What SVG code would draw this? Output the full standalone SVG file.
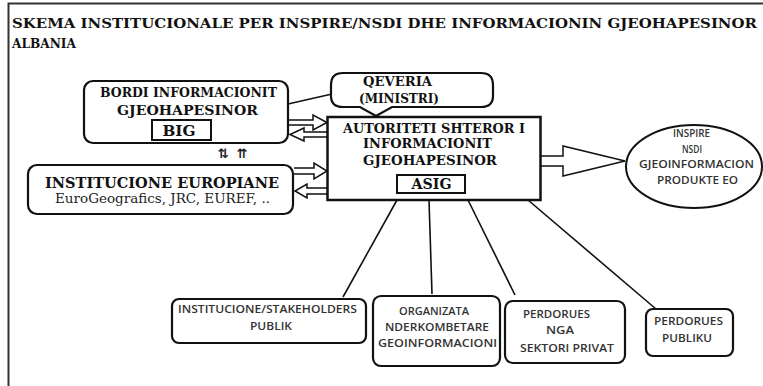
<svg xmlns="http://www.w3.org/2000/svg" width="763" height="386" viewBox="0 0 763 386">
<style>
  .bx{fill:#fff;stroke:#111;stroke-width:2.2}
  .ln{fill:none;stroke:#111;stroke-width:1.6}
  .ar{fill:#fff;stroke:#111;stroke-width:1.5;stroke-linejoin:miter}
  .sf{font-family:"DejaVu Serif","Liberation Serif",serif;font-weight:bold;fill:#111}
  .sfn{font-family:"DejaVu Serif","Liberation Serif",serif;font-weight:normal;fill:#222}
  .ss{font-family:"Open Sans","Liberation Sans",sans-serif;font-weight:600;fill:#333}
</style>
<rect width="763" height="386" fill="#fff"/>
<path d="M8.5,386 V3.5 H763" fill="none" stroke="#333" stroke-width="2"/>
<g id="title">
  <text class="sf" x="12" y="28" font-size="13.5" textLength="745" lengthAdjust="spacingAndGlyphs">SKEMA INSTITUCIONALE PER INSPIRE/NSDI DHE INFORMACIONIN GJEOHAPESINOR</text>
  <text class="sf" x="12" y="48" font-size="13.5" textLength="64" lengthAdjust="spacingAndGlyphs">ALBANIA</text>
</g>
<g id="connectors">
  <line class="ln" x1="288" y1="104" x2="332" y2="94"/>
  <line class="ln" x1="397" y1="200" x2="343" y2="297"/>
  <line class="ln" x1="429" y1="200" x2="432" y2="294"/>
  <line class="ln" x1="468" y1="200" x2="515" y2="295"/>
  <line class="ln" x1="528" y1="200" x2="656" y2="309"/>
  <path class="ar" d="M289,120 H313 V115 L327,122.5 L313,130 V125 H289"/>
  <path class="ar" d="M327,132 H304 V128 L290,134.5 L304,141 V137 H327"/>
  <path class="ar" d="M294,168 H314 V163 L327,171 L314,179 V174 H294"/>
  <path class="ar" d="M327,188 H307 V184 L295,191 L307,198 V194 H327"/>
  <path class="ar" d="M541,156 H563 V146 L625,161 L563,176 V166 H541"/>
  <text x="223" y="158" font-family="DejaVu Sans,sans-serif" font-weight="bold" font-size="13" fill="#222" text-anchor="middle">⇅</text>
  <text x="242" y="158" font-family="DejaVu Sans,sans-serif" font-weight="bold" font-size="13" fill="#222" text-anchor="middle">⇈</text>
</g>
<g id="big">
  <rect class="bx" x="84" y="81" width="204" height="62" rx="9"/>
  <text class="sf" x="188.5" y="97" font-size="12.5" text-anchor="middle" textLength="177" lengthAdjust="spacingAndGlyphs">BORDI INFORMACIONIT</text>
  <text class="sf" x="187.5" y="115" font-size="12.5" text-anchor="middle" textLength="141" lengthAdjust="spacingAndGlyphs">GJEOHAPESINOR</text>
  <rect x="152" y="120" width="59" height="20" fill="none" stroke="#111" stroke-width="2"/>
  <text class="sf" x="179" y="136" font-size="15" text-anchor="middle" textLength="33" lengthAdjust="spacingAndGlyphs">BIG</text>
</g>
<g id="europiane">
  <rect class="bx" x="28" y="165" width="265" height="49" rx="9"/>
  <text class="sf" x="162" y="188" font-size="15" text-anchor="middle" textLength="234" lengthAdjust="spacingAndGlyphs">INSTITUCIONE EUROPIANE</text>
  <text class="sfn" x="162.5" y="203" font-size="12" text-anchor="middle" textLength="215" lengthAdjust="spacingAndGlyphs">EuroGeografics, JRC, EUREF, ..</text>
</g>
<g id="qeveria">
  <path class="bx" d="M343,73 H481 Q493,73 493,85 V96 Q493,107 481,107 H392 L376,116 L360,107 H343 Q331,107 331,96 V85 Q331,73 343,73 Z"/>
  <text class="sf" x="397.5" y="86" font-size="12" text-anchor="middle" textLength="69" lengthAdjust="spacingAndGlyphs">QEVERIA</text>
  <text class="sf" x="399" y="103" font-size="12" text-anchor="middle" textLength="80" lengthAdjust="spacingAndGlyphs">(MINISTRI)</text>
</g>
<g id="asig">
  <rect x="327.5" y="117" width="213" height="83" fill="#fff" stroke="#111" stroke-width="2.5"/>
  <text class="sf" x="434" y="133" font-size="12.5" text-anchor="middle" textLength="182" lengthAdjust="spacingAndGlyphs">AUTORITETI SHTEROR I</text>
  <text class="sf" x="427.5" y="148" font-size="12.5" text-anchor="middle" textLength="129" lengthAdjust="spacingAndGlyphs">INFORMACIONIT</text>
  <text class="sf" x="430" y="165" font-size="12.5" text-anchor="middle" textLength="134" lengthAdjust="spacingAndGlyphs">GJEOHAPESINOR</text>
  <rect x="397" y="175" width="68" height="18" fill="none" stroke="#111" stroke-width="2"/>
  <text class="sf" x="431.5" y="189" font-size="14" text-anchor="middle" textLength="40" lengthAdjust="spacingAndGlyphs">ASIG</text>
</g>
<g id="inspire">
  <ellipse cx="694" cy="166.5" rx="68" ry="41.5" fill="#fff" stroke="#111" stroke-width="2"/>
  <text class="ss" x="691.5" y="137" font-size="10" text-anchor="middle" textLength="37" lengthAdjust="spacingAndGlyphs">INSPIRE</text>
  <text class="ss" x="692" y="153" font-size="10" text-anchor="middle" textLength="20" lengthAdjust="spacingAndGlyphs">NSDI</text>
  <text class="ss" x="696.5" y="168" font-size="10" text-anchor="middle" textLength="115" lengthAdjust="spacingAndGlyphs">GJEOINFORMACION</text>
  <text class="ss" x="697.5" y="184" font-size="10" text-anchor="middle" textLength="81" lengthAdjust="spacingAndGlyphs">PRODUKTE EO</text>
</g>
<g id="stakeholders">
  <rect class="bx" x="172" y="299" width="194" height="44" rx="7"/>
  <text class="ss" x="267.5" y="313" font-size="11" text-anchor="middle" textLength="179" lengthAdjust="spacingAndGlyphs">INSTITUCIONE/STAKEHOLDERS</text>
  <text class="ss" x="271" y="330" font-size="11" text-anchor="middle" textLength="42" lengthAdjust="spacingAndGlyphs">PUBLIK</text>
</g>
<g id="organizata">
  <rect class="bx" x="373" y="296" width="127" height="70" rx="8"/>
  <text class="ss" x="434" y="315" font-size="11" text-anchor="middle" textLength="70" lengthAdjust="spacingAndGlyphs">ORGANIZATA</text>
  <text class="ss" x="437" y="331" font-size="11" text-anchor="middle" textLength="104" lengthAdjust="spacingAndGlyphs">NDERKOMBETARE</text>
  <text class="ss" x="437.5" y="347" font-size="11" text-anchor="middle" textLength="119" lengthAdjust="spacingAndGlyphs">GEOINFORMACIONI</text>
</g>
<g id="privat">
  <rect class="bx" x="505" y="301" width="120" height="62" rx="8"/>
  <text class="ss" x="556.5" y="318" font-size="11" text-anchor="middle" textLength="67" lengthAdjust="spacingAndGlyphs">PERDORUES</text>
  <text class="ss" x="560" y="334" font-size="11" text-anchor="middle" textLength="28" lengthAdjust="spacingAndGlyphs">NGA</text>
  <text class="ss" x="567" y="352" font-size="11" text-anchor="middle" textLength="94" lengthAdjust="spacingAndGlyphs">SEKTORI PRIVAT</text>
</g>
<g id="publiku">
  <rect class="bx" x="646" y="309" width="87" height="47" rx="7"/>
  <text class="ss" x="688.5" y="325" font-size="11" text-anchor="middle" textLength="69" lengthAdjust="spacingAndGlyphs">PERDORUES</text>
  <text class="ss" x="687" y="342" font-size="11" text-anchor="middle" textLength="50" lengthAdjust="spacingAndGlyphs">PUBLIKU</text>
</g>
</svg>
